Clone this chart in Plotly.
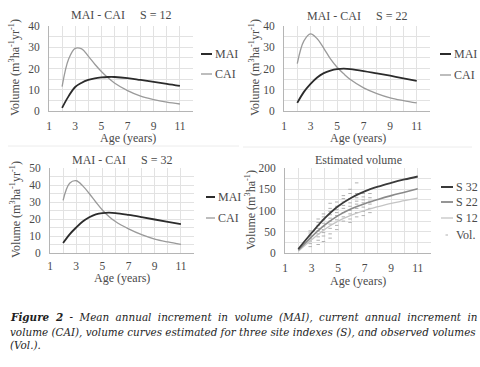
import plotly.graph_objects as go

# ---------------- data ----------------
AGE = [2, 2.5, 3, 3.5, 4, 4.5, 5, 5.5, 6, 7, 8, 9, 10, 11]

MAI_S12 = [1.5, 7.0, 11.3, 13.3, 14.6, 15.4, 15.8, 16.0, 16.0, 15.5, 14.6, 13.7, 12.8, 11.8]
CAI_S12 = [11.5, 24.5, 29.5, 29.2, 25.8, 22.0, 18.6, 15.7, 13.2, 9.6, 7.0, 5.4, 4.2, 3.3]

MAI_S22 = [3.8, 9.0, 12.8, 15.8, 17.8, 19.0, 19.7, 19.9, 19.7, 18.8, 17.7, 16.6, 15.4, 14.2]
CAI_S22 = [22.3, 33.0, 36.3, 34.0, 29.5, 24.5, 20.6, 17.5, 14.8, 10.9, 8.2, 6.2, 4.9, 3.8]

MAI_S32 = [5.9, 11.0, 15.0, 18.5, 21.0, 22.7, 23.5, 23.7, 23.5, 22.4, 21.1, 19.7, 18.3, 17.0]
CAI_S32 = [31.0, 41.0, 42.5, 39.5, 35.0, 30.0, 25.3, 21.5, 18.5, 14.2, 10.8, 8.2, 6.5, 5.1]

AGE_V = [2, 3, 4, 5, 6, 7, 8, 9, 10, 11]
VOL_S32 = [9.5, 47, 82, 110, 130, 145, 156, 165, 173, 180]
VOL_S22 = [6.5, 38, 66, 88, 104, 116, 126, 135, 143, 151]
VOL_S12 = [4, 31, 56, 75, 89, 100, 109, 117, 123, 129]

OBS_AGE = ([2.9] * 8 + [3.5] * 9 + [3.9] * 9 + [4.4] * 10 + [4.9] * 8 +
           [5.4] * 8 + [5.9] * 9 + [6.4] * 8 + [6.9] * 7 + [7.4] * 6)
OBS_VOL = ([15, 22, 28, 33, 38, 42, 47, 52] +
           [20, 30, 38, 45, 52, 58, 65, 72, 80] +
           [27, 40, 48, 55, 62, 70, 78, 85, 92] +
           [35, 45, 58, 68, 75, 82, 90, 98, 105, 117] +
           [55, 65, 78, 88, 95, 102, 110, 120] +
           [75, 85, 95, 105, 112, 120, 128, 135] +
           [72, 80, 92, 100, 110, 118, 128, 140, 150] +
           [85, 95, 105, 115, 122, 130, 140, 165] +
           [88, 98, 108, 118, 125, 132, 140] +
           [95, 105, 115, 122, 130, 140])

X_TICKS = [1, 3, 5, 7, 9, 11]

# ---------------- styling ----------------
W, H = 480, 367
FONT = "Liberation Serif"
C_DARK = "#2b2b2b"
C_MID = "#9a9a9a"
C_S32 = "#3a3a3a"
C_S22 = "#8a8a8a"
C_S12 = "#c4c4c4"
C_OBS = "#b0b0b0"
GRID = "#e2e2e2"
AXL = "#b5b5b5"
TXT = "#4a4a4a"


def px(x):
    return x / W


def py(y):
    return 1 - y / H


fig = go.Figure()

panels = [
    # suffix, x-domain px, y-domain px, y range, y dtick, minor dtick, x label standoff
    ("", (49, 193), (26, 111), [0, 40], 10, 5, 4),
    ("2", (284, 430), (26, 111), [0, 40], 10, 5, 4),
    ("3", (50, 194), (168, 253), [0, 50], 10, 5, 2),
    ("4", (285, 431), (168, 253), [0, 200], 50, 25, 4),
]

layout = {}
for suf, (x0, x1), (y0, y1), yr, dt, mdt, xso in panels:
    layout["xaxis" + suf] = dict(
        domain=[px(x0), px(x1)], range=[1, 12], anchor="y" + suf, automargin=False,
        tickvals=X_TICKS, showgrid=True, gridcolor=GRID, gridwidth=1,
        minor=dict(tickvals=list(range(1, 13)), showgrid=True, gridcolor=GRID, gridwidth=1),
        showline=True, linecolor=AXL, linewidth=1, zeroline=False,
        ticks="", ticklabelstandoff=xso,
        tickfont=dict(family=FONT, size=11.5, color=TXT), fixedrange=True,
    )
    layout["yaxis" + suf] = dict(
        domain=[py(y1), py(y0)], range=yr, anchor="x" + suf, automargin=False,
        dtick=dt, tick0=0, showgrid=True, gridcolor=GRID, gridwidth=1,
        minor=dict(dtick=mdt, tick0=0, showgrid=True, gridcolor=GRID, gridwidth=1),
        showline=True, linecolor=AXL, linewidth=1, zeroline=False,
        ticks="", ticklabelstandoff=6,
        tickfont=dict(family=FONT, size=11.5, color=TXT), fixedrange=True,
    )


def add_line(x, y, suf, color, width):
    fig.add_trace(go.Scatter(
        x=x, y=y, mode="lines", line=dict(color=color, width=width, shape="spline", smoothing=1.0),
        xaxis="x" + suf, yaxis="y" + suf, showlegend=False, hoverinfo="skip"))


add_line(AGE, CAI_S12, "", C_MID, 1.3)
add_line(AGE, MAI_S12, "", C_DARK, 1.8)
add_line(AGE, CAI_S22, "2", C_MID, 1.3)
add_line(AGE, MAI_S22, "2", C_DARK, 1.8)
add_line(AGE, CAI_S32, "3", C_MID, 1.3)
add_line(AGE, MAI_S32, "3", C_DARK, 1.8)

fig.add_trace(go.Scatter(
    x=OBS_AGE, y=OBS_VOL, mode="markers",
    marker=dict(symbol="line-ew", size=2.5, line=dict(color=C_OBS, width=1)),
    xaxis="x4", yaxis="y4", showlegend=False, hoverinfo="skip"))
add_line(AGE_V, VOL_S12, "4", C_S12, 1.3)
add_line(AGE_V, VOL_S22, "4", C_S22, 1.6)
add_line(AGE_V, VOL_S32, "4", C_S32, 1.8)

annotations = []
shapes = []


def text(x, y, s, size=12, anchor="center", angle=0, color=TXT, family=FONT, vanchor="middle"):
    annotations.append(dict(
        x=px(x), y=py(y), xref="paper", yref="paper", text=s, showarrow=False,
        xanchor=anchor, yanchor=vanchor, textangle=angle,
        font=dict(family=family, size=size, color=color)))


text(121, 15, "MAI - CAI&nbsp;&nbsp;&nbsp;&nbsp;&nbsp;S = 12", 12)
text(357, 16, "MAI - CAI&nbsp;&nbsp;&nbsp;&nbsp;&nbsp;S = 22", 12)
text(122, 160, "MAI - CAI&nbsp;&nbsp;&nbsp;&nbsp;&nbsp;S = 32", 12)
text(358, 160, "Estimated volume", 12)

text(128, 138, "Age (years)", 12)
text(358, 138, "Age (years)", 12)
text(122, 278, "Age (years)", 12)
text(358, 281, "Age (years)", 12)

YT1 = "Volume (m<sup>3</sup>ha<sup>-1</sup>yr<sup>-1</sup>)"
text(15, 68, YT1, 12, angle=-90)
text(255, 68, YT1, 12, angle=-90)
text(15, 210, YT1, 12, angle=-90)
text(250, 210, "Volume (m<sup>3</sup>ha<sup>-1</sup>)", 12, angle=-90)


def legend_line(x0, x1, y, color, width, label):
    shapes.append(dict(type="line", xref="paper", yref="paper",
                       x0=px(x0), x1=px(x1), y0=py(y), y1=py(y),
                       line=dict(color=color, width=width)))
    text(x1 + 1, y, label, 12, anchor="left")


legend_line(201, 212, 54, C_DARK, 2, "MAI")
legend_line(201, 212, 74, C_MID, 1.3, "CAI")
legend_line(440, 451, 54, C_DARK, 2, "MAI")
legend_line(440, 451, 75, C_MID, 1.3, "CAI")
legend_line(206, 215, 197, C_DARK, 2, "MAI")
legend_line(206, 215, 218, C_MID, 1.3, "CAI")
legend_line(441, 453, 187, C_S32, 2, "S 32")
legend_line(441, 453, 202, C_S22, 1.8, "S 22")
legend_line(441, 453, 218, C_S12, 1.3, "S 12")
shapes.append(dict(type="line", xref="paper", yref="paper",
                   x0=px(445.5), x1=px(448), y0=py(235), y1=py(235),
                   line=dict(color=C_OBS, width=1)))
text(454, 235, "Vol.", 12, anchor="left")

for (a, b, y) in [(8, 239, 146), (243, 472, 147)]:
    shapes.append(dict(type="line", xref="paper", yref="paper",
                       x0=px(a), x1=px(b), y0=py(y), y1=py(y),
                       line=dict(color="#ececec", width=1)))

CF = "DejaVu Serif"
CS = 10.4
SP = "&nbsp;&#8201;&#8202;"
LINE1 = ("<b><i>Figure" + SP + "2</i></b><i>" + SP + "-" + SP + "Mean" + SP + "annual" + SP + "increment" + SP +
         "in" + SP + "volume" + SP + "(MAI)," + SP + "current" + SP + "annual" + SP + "increment" + SP + "in</i>")
text(8, 317, LINE1, CS, anchor="left", color="#1e1e1e", family=CF)
text(8, 331.5, "<i>volume (CAI), volume curves estimated for three site indexes (S), and observed volumes</i>",
     CS, anchor="left", color="#1e1e1e", family=CF)
text(8, 345, "<i>(Vol.).</i>", CS, anchor="left", color="#1e1e1e", family=CF)

fig.update_layout(
    width=W, height=H, margin=dict(l=0, r=0, t=0, b=0, autoexpand=False),
    paper_bgcolor="white", plot_bgcolor="white", hovermode=False,
    showlegend=False, annotations=annotations, shapes=shapes,
    **layout)

fig.write_html(
    "out.html",
    config={"displayModeBar": False, "staticPlot": True},
    post_script="document.body.style.margin='0';document.body.style.padding='0';"
                "document.body.style.overflow='hidden';",
)
